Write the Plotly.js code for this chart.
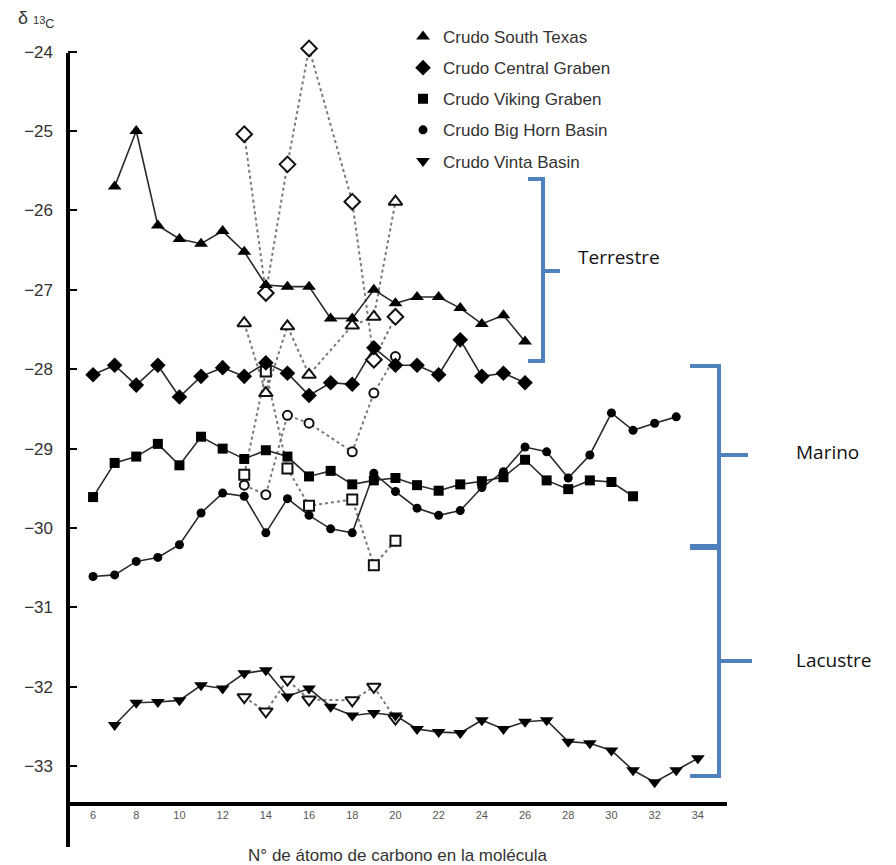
<!DOCTYPE html>
<html>
<head>
<meta charset="utf-8">
<script src="https://cdn.plot.ly/plotly-3.0.1.min.js"></script>
<style>
  html, body { margin: 0; padding: 0; background: #fff; }
  #chart { width: 896px; height: 865px; }
</style>
</head>
<body>
<div id="chart"></div>
<script>
// ---- Data ----
const seriesNames = ["Crudo South Texas", "Crudo Central Graben", "Crudo Viking Graben", "Crudo Big Horn Basin", "Crudo Vinta Basin"];

const xSouthTexas = [7,8,9,10,11,12,13,14,15,16,17,18,19,20,21,22,23,24,25,26];
const ySouthTexas = [-25.70,-25.00,-26.19,-26.36,-26.42,-26.26,-26.52,-26.94,-26.96,-26.96,-27.36,-27.36,-27.00,-27.17,-27.09,-27.09,-27.23,-27.43,-27.32,-27.65];

const xCentralGraben = [6,7,8,9,10,11,12,13,14,15,16,17,18,19,20,21,22,23,24,25,26];
const yCentralGraben = [-28.07,-27.95,-28.20,-27.95,-28.35,-28.09,-27.98,-28.09,-27.92,-28.05,-28.33,-28.17,-28.19,-27.73,-27.95,-27.95,-28.07,-27.63,-28.09,-28.05,-28.17];

const xVikingGraben = [6,7,8,9,10,11,12,13,14,15,16,17,18,19,20,21,22,23,24,25,26,27,28,29,30,31];
const yVikingGraben = [-29.61,-29.18,-29.10,-28.94,-29.21,-28.85,-29.00,-29.13,-29.02,-29.10,-29.35,-29.28,-29.45,-29.40,-29.37,-29.46,-29.53,-29.45,-29.41,-29.36,-29.14,-29.40,-29.51,-29.40,-29.42,-29.60];

const xBigHorn = [6,7,8,9,10,11,12,13,14,15,16,17,18,19,20,21,22,23,24,25,26,27,28,29,30,31,32,33];
const yBigHorn = [-30.61,-30.59,-30.42,-30.37,-30.21,-29.81,-29.56,-29.60,-30.06,-29.63,-29.84,-30.01,-30.06,-29.31,-29.54,-29.75,-29.84,-29.78,-29.49,-29.29,-28.98,-29.04,-29.37,-29.08,-28.55,-28.77,-28.68,-28.60];

const xVinta = [7,8,9,10,11,12,13,14,15,16,17,18,19,20,21,22,23,24,25,26,27,28,29,30,31,32,33,34];
const yVinta = [-32.48,-32.20,-32.19,-32.17,-31.98,-32.02,-31.83,-31.79,-32.12,-32.02,-32.25,-32.36,-32.33,-32.36,-32.53,-32.57,-32.58,-32.42,-32.53,-32.44,-32.42,-32.69,-32.71,-32.80,-33.05,-33.20,-33.05,-32.90];

// open symbols (dashed series)
const xOpen = [13,14,15,16,18,19,20];
const yOpenSouthTexas    = [-27.42,-28.30,-27.46,-28.07,-27.45,-27.34,-25.89];
const yOpenCentralGraben = [-25.04,-27.04,-25.42,-23.96,-25.89,-27.88,-27.34];
const yOpenVikingGraben  = [-29.33,-28.03,-29.25,-29.72,-29.64,-30.47,-30.16];
const yOpenBigHorn       = [-29.46,-29.58,-28.58,-28.68,-29.04,-28.30,-27.84];
const yOpenVinta         = [-32.13,-32.31,-31.91,-32.16,-32.17,-32.00,-32.40];

const xTickVals = [6,8,10,12,14,16,18,20,22,24,26,28,30,32,34];
const yTickVals = [-24,-25,-26,-27,-28,-29,-30,-31,-32,-33];

const groupLabels = ["Terrestre", "Marino", "Lacustre"];

// ---- Styling ----
const symbols = ["triangle-up", "diamond", "square", "circle", "triangle-down"];
const sizes = [12, 12, 10, 9, 12];
const filled = [
  [xSouthTexas, ySouthTexas], [xCentralGraben, yCentralGraben], [xVikingGraben, yVikingGraben],
  [xBigHorn, yBigHorn], [xVinta, yVinta]
];
const opens = [yOpenSouthTexas, yOpenCentralGraben, yOpenVikingGraben, yOpenBigHorn, yOpenVinta];

const traces = [];
opens.forEach((ys, i) => {
  traces.push({
    x: xOpen, y: ys, mode: "lines", type: "scatter", showlegend: false, hoverinfo: "skip",
    line: { color: "#7a7a7a", width: 2, dash: "3px,3px" }, cliponaxis: false
  });
});
filled.forEach((d, i) => {
  traces.push({
    x: d[0], y: d[1], mode: "lines", type: "scatter", showlegend: false, hoverinfo: "skip",
    line: { color: "#2a2a2a", width: 1.6 }, cliponaxis: false
  });
});
opens.forEach((ys, i) => {
  traces.push({
    x: xOpen, y: ys, mode: "markers", type: "scatter", showlegend: false,
    marker: { symbol: symbols[i], size: sizes[i], color: "#ffffff", line: { color: "#111", width: 2 } },
    cliponaxis: false
  });
});
filled.forEach((d, i) => {
  traces.push({
    x: d[0], y: d[1], mode: "markers", type: "scatter", name: seriesNames[i],
    legendgroup: "g" + i, showlegend: true,
    marker: { symbol: symbols[i], size: sizes[i], color: "#000000", line: { width: 0 } },
    cliponaxis: false
  });
});

// ---- layout geometry helpers (paper coords) ----
const L = 68, R = 727, T = 40, B = 802, W = 896, H = 865;
const px = v => (v - L) / (R - L);
const py = v => (B - v) / (B - T);

function bracket(x0, x1, x2, yTop, yMid, yBot) {
  return `M ${px(x0)},${py(yTop)} L ${px(x1)},${py(yTop)} L ${px(x1)},${py(yBot)} L ${px(x0)},${py(yBot)} M ${px(x1)},${py(yMid)} L ${px(x2)},${py(yMid)}`;
}
const blue = "#4f81bd";
const shapes = [
  { type: "line", xref: "paper", yref: "paper", x0: px(68), x1: px(68), y0: py(847), y1: py(53),
    line: { color: "#000", width: 4 } },
  { type: "path", xref: "paper", yref: "paper", path: bracket(528, 543, 560, 179, 271, 361), line: { color: blue, width: 4 } },
  { type: "path", xref: "paper", yref: "paper", path: bracket(690, 719, 748, 366, 455, 546), line: { color: blue, width: 4 } },
  { type: "path", xref: "paper", yref: "paper", path: bracket(690, 719, 752, 548, 661, 776), line: { color: blue, width: 4 } }
];

const labelFont = { family: "Open Sans, Noto Sans, sans-serif", size: 19, color: "#111" };
const annotations = [
  { xref: "paper", yref: "paper", x: px(576), y: py(257), xanchor: "left", yanchor: "middle", showarrow: false,
    text: groupLabels[0], font: labelFont },
  { xref: "paper", yref: "paper", x: px(794), y: py(452), xanchor: "left", yanchor: "middle", showarrow: false,
    text: groupLabels[1], font: labelFont },
  { xref: "paper", yref: "paper", x: px(794), y: py(660), xanchor: "left", yanchor: "middle", showarrow: false,
    text: groupLabels[2], font: labelFont },
  { xref: "paper", yref: "paper", x: px(16), y: py(19), xanchor: "left", yanchor: "middle", showarrow: false,
    text: "δ <span style='font-size:11px'>13</span><sub>C</sub>",
    font: { family: "Liberation Sans, Arial, sans-serif", size: 18, color: "#333" } }
];

const layout = {
  width: W, height: H,
  margin: { l: L, r: W - R, t: T, b: H - B, pad: 0 },
  paper_bgcolor: "#ffffff", plot_bgcolor: "#ffffff",
  showlegend: true,
  legend: {
    x: px(403), y: py(19), xanchor: "left", yanchor: "top",
    font: { family: "Liberation Sans, Arial, sans-serif", size: 17, color: "#333" },
    bgcolor: "rgba(0,0,0,0)", traceorder: "grouped", tracegroupgap: 6,
    itemwidth: 30
  },
  xaxis: {
    range: [4.84, 35.35], tickvals: xTickVals, ticks: "", showgrid: false, zeroline: false,
    showline: true, linecolor: "#000", linewidth: 4,
    tickfont: { family: "Liberation Sans, Arial, sans-serif", size: 11, color: "#555" },
    ticklabelstandoff: 0,
    title: { text: "N° de átomo de carbono en la molécula", standoff: 30,
      font: { family: "Liberation Sans, Arial, sans-serif", size: 17, color: "#333" } }
  },
  yaxis: {
    range: [-33.45, -23.854], tickvals: yTickVals, ticks: "inside", ticklen: 9, tickwidth: 2, tickcolor: "#000",
    showgrid: false, zeroline: false, showline: false,
    tickfont: { family: "Liberation Sans, Arial, sans-serif", size: 17, color: "#333" },
    ticklabelstandoff: 14
  },
  shapes: shapes,
  annotations: annotations
};

Plotly.newPlot("chart", traces, layout, { displayModeBar: false, staticPlot: true });
</script>
</body>
</html>
